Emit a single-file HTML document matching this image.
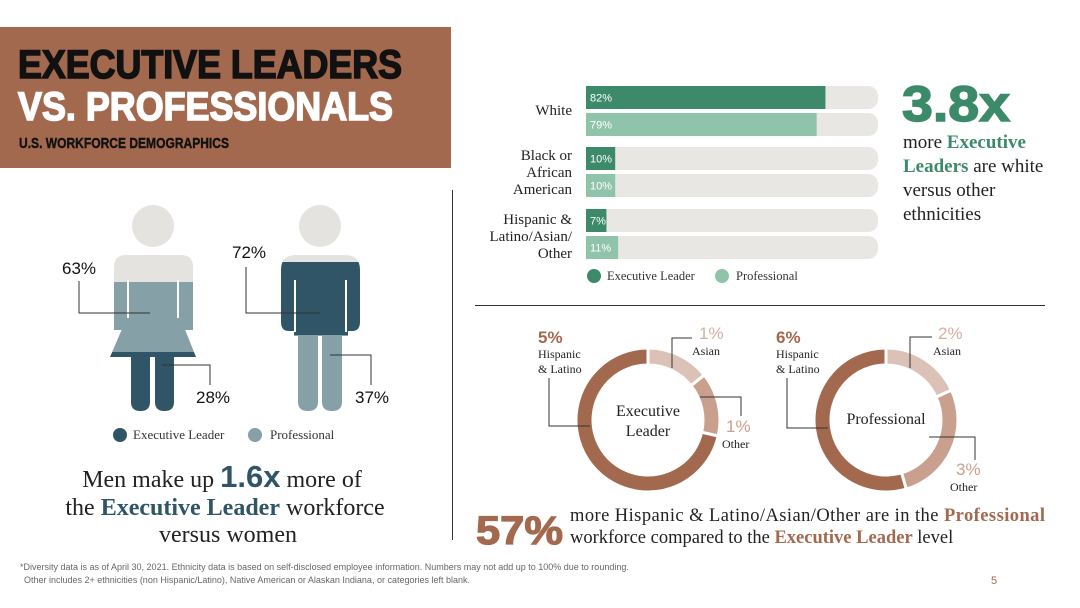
<!DOCTYPE html>
<html><head><meta charset="utf-8"><style>
body{margin:0;background:#fff}
svg{display:block;font-family:"Liberation Serif",serif}
.sans{font-family:"Liberation Sans",sans-serif}
</style></head><body>
<svg width="1080" height="608" viewBox="0 0 1080 608">
<defs>
<clipPath id="wclip"><path d="M114,330 V267 Q114,255 126,255 H181 Q193,255 193,267 V330 Z M125,322 H182 L196,357 H110 Z M131,352 H150 V402 Q150,411 140.5,411 Q131,411 131,402 Z M155,352 H174 V402 Q174,411 164.5,411 Q155,411 155,402 Z"/></clipPath>
<clipPath id="mclip"><path d="M281,322 V270 Q281,255 296,255 H345 Q360,255 360,270 V322 Q360,331 352,331 L348,331 V336 H294 V331 L289,331 Q281,331 281,322 Z M298,330 H318 V402 Q318,411 308,411 Q298,411 298,402 Z M322,330 H342 V402 Q342,411 332,411 Q322,411 322,402 Z"/></clipPath>
</defs>

<rect x="0" y="27" width="451" height="141" fill="#a3694f"/>
<text class="sans" x="18" y="78" font-size="40" font-weight="900" fill="#111" stroke="#111" stroke-width="1.6" textLength="384" lengthAdjust="spacingAndGlyphs">EXECUTIVE LEADERS</text>
<text class="sans" x="18" y="120" font-size="40" font-weight="900" fill="#fff" stroke="#fff" stroke-width="1.6" textLength="375" lengthAdjust="spacingAndGlyphs">VS. PROFESSIONALS</text>
<text class="sans" x="19" y="148" font-size="15" font-weight="700" fill="#111" stroke="#111" stroke-width="0.4" textLength="210" lengthAdjust="spacingAndGlyphs">U.S. WORKFORCE DEMOGRAPHICS</text>

<line x1="452.5" y1="190" x2="452.5" y2="540" stroke="#333" stroke-width="1"/>
<line x1="475" y1="305.5" x2="1045" y2="305.5" stroke="#333" stroke-width="1"/>

<g>
<circle cx="153" cy="226" r="21" fill="#e5e3df"/>
<g clip-path="url(#wclip)">
<rect x="100" y="250" width="110" height="32" fill="#e5e3df"/>
<rect x="100" y="282" width="110" height="70" fill="#86a0a8"/>
<rect x="100" y="352" width="110" height="70" fill="#2f5566"/>
</g>
<line x1="128" y1="280" x2="128" y2="318" stroke="#fff" stroke-width="2"/>
<line x1="178" y1="280" x2="178" y2="318" stroke="#fff" stroke-width="2"/>
</g>
<g>
<circle cx="320" cy="226" r="21" fill="#e5e3df"/>
<g clip-path="url(#mclip)">
<rect x="270" y="250" width="100" height="12" fill="#e5e3df"/>
<rect x="270" y="262" width="100" height="73" fill="#2f5566"/>
<rect x="270" y="335" width="100" height="80" fill="#86a0a8"/>
</g>
<line x1="295" y1="280" x2="295" y2="332" stroke="#fff" stroke-width="2"/>
<line x1="346" y1="280" x2="346" y2="332" stroke="#fff" stroke-width="2"/>
</g>
<g stroke="#333" stroke-width="1" fill="none">
<polyline points="79,281 79,313 150,313"/>
<polyline points="162,365 210,365 210,385"/>
<polyline points="246,267 246,313 320,313"/>
<polyline points="330,355 371,355 371,385"/>
</g>
<g class="sans" font-size="17" fill="#111">
<text x="62" y="274">63%</text>
<text x="196" y="403">28%</text>
<text x="232" y="258">72%</text>
<text x="355" y="403">37%</text>
</g>
<g font-size="13" fill="#333">
<circle cx="120" cy="435" r="7" fill="#2f5566"/><text x="133" y="439">Executive Leader</text>
<circle cx="255" cy="435" r="7" fill="#86a0a8"/><text x="270" y="439">Professional</text>
</g>
<g font-size="24" fill="#222" text-anchor="middle">
<text x="222" y="487">Men make up <tspan class="sans" font-weight="900" font-size="31" fill="#2f5566">1.6x</tspan> more of</text>
<text x="225" y="515">the <tspan font-weight="700" fill="#2f5566">Executive Leader</tspan> workforce</text>
<text x="228" y="542">versus women</text>
</g>

<g id="bars"></g>
<g font-size="15" fill="#222" text-anchor="end">
<text x="572" y="115">White</text>
<text x="572" y="160">Black or</text><text x="572" y="177">African</text><text x="572" y="194">American</text>
<text x="572" y="224">Hispanic &amp;</text><text x="572" y="241">Latino/Asian/</text><text x="572" y="258">Other</text>
</g>
<g font-size="12.5" fill="#333">
<circle cx="594" cy="276" r="7" fill="#3d8a6a"/><text x="607" y="280">Executive Leader</text>
<circle cx="722" cy="276" r="7" fill="#8fc4aa"/><text x="736" y="280">Professional</text>
</g>
<text class="sans" x="902" y="121" font-size="50" font-weight="900" fill="#3d8a6a" stroke="#3d8a6a" stroke-width="1.5" textLength="108" lengthAdjust="spacingAndGlyphs">3.8x</text>
<g font-size="19" fill="#222">
<text x="903" y="148">more <tspan font-weight="700" fill="#3d8a6a">Executive</tspan></text>
<text x="903" y="172"><tspan font-weight="700" fill="#3d8a6a">Leaders</tspan> are white</text>
<text x="903" y="196">versus other</text>
<text x="903" y="220">ethnicities</text>
</g>

<g id="donuts"></g>
<g stroke="#333" stroke-width="1" fill="none">
<polyline points="549,378 549,426 590,426"/>
<polyline points="692,338 672,338 672,368"/>
<polyline points="700,397 741,397 741,416"/>
<polyline points="787,378 787,428 828,428"/>
<polyline points="932,337 910,337 910,368"/>
<polyline points="929,437 975,437 975,460"/>
</g>
<g font-size="12" fill="#222">
<text class="sans" x="538" y="343" font-size="17" font-weight="700" fill="#a3694f">5%</text>
<text x="538" y="358">Hispanic</text><text x="538" y="373">&amp; Latino</text>
<text class="sans" x="699" y="339" font-size="17" fill="#d4b0a0">1%</text>
<text x="692" y="355">Asian</text>
<text class="sans" x="726" y="432" font-size="17" fill="#c9a08d">1%</text>
<text x="722" y="448">Other</text>
<text x="648" y="416" font-size="16" text-anchor="middle">Executive</text>
<text x="648" y="436" font-size="16" text-anchor="middle">Leader</text>
<text class="sans" x="776" y="343" font-size="17" font-weight="700" fill="#a3694f">6%</text>
<text x="776" y="358">Hispanic</text><text x="776" y="373">&amp; Latino</text>
<text class="sans" x="938" y="339" font-size="17" fill="#d4b0a0">2%</text>
<text x="933" y="355">Asian</text>
<text class="sans" x="956" y="475" font-size="17" fill="#c9a08d">3%</text>
<text x="950" y="491">Other</text>
<text x="886" y="424" font-size="16" text-anchor="middle">Professional</text>
</g>
<text class="sans" x="476" y="544" font-size="40" font-weight="900" fill="#a3694f" stroke="#a3694f" stroke-width="1.2" textLength="87" lengthAdjust="spacingAndGlyphs">57%</text>
<g font-size="18.5" fill="#222">
<text x="570" y="521" textLength="475" lengthAdjust="spacing">more Hispanic &amp; Latino/Asian/Other are in the <tspan font-weight="700" fill="#a3694f">Professional</tspan></text>
<text x="570" y="543">workforce compared to the <tspan font-weight="700" fill="#a3694f">Executive Leader</tspan> level</text>
</g>

<g class="sans" font-size="9" fill="#666">
<text x="20" y="570">*Diversity data is as of April 30, 2021. Ethnicity data is based on self-disclosed employee information. Numbers may not add up to 100% due to rounding.</text>
<text x="24" y="583">Other includes 2+ ethnicities (non Hispanic/Latino), Native American or Alaskan Indiana, or categories left blank.</text>
</g>
<text class="sans" x="991" y="584" font-size="11" fill="#a3694f">5</text>

<script>
const categories = ["White","Black or African American","Hispanic & Latino/Asian/Other"];
const execValues = [82,10,7];
const profValues = [79,10,11];
const donutSegments = ["Hispanic & Latino","Asian","Other"];
const execDonut = [5,1,1];
const profDonut = [6,2,3];
const donutColors = ["#a3694f","#dcc2b6","#c9a08d"];
const NS="http://www.w3.org/2000/svg";
const x0=586, x1=878, bh=23;
const xScale=v=>(x1-x0)*v/100;
const catY=i=>[86,147,209][i];
const bars=document.getElementById('bars');
function mk(tag,attrs,parent){const e=document.createElementNS(NS,tag);for(const k in attrs)e.setAttribute(k,attrs[k]);parent.appendChild(e);return e;}
categories.forEach((c,i)=>{
  [[execValues,"#3d8a6a",0,"exec"],[profValues,"#8fc4aa",27,"prof"]].forEach(([vals,col,off,nm])=>{
    const y=catY(i)+off;
    const track=mk('rect',{x:x0,y:y,width:x1-x0,height:bh,rx:10,fill:"#e8e7e4"},bars);
    
    
    const w=xScale(vals[i]);
    const b=mk('rect',{x:x0,y:y,width:w,height:bh,fill:col},bars);
    
    
    const t=mk('text',{x:x0+4,y:y+15.5,'font-size':11,fill:'#fff','class':'sans'},bars);
    t.textContent=vals[i]+'%';
    
    
  });
});
const donuts=document.getElementById('donuts');
const drawOrder=[1,2,0];
function donut(vals,cx,cy,nm){
  const R=72,r=55,tot=vals.reduce((a,b)=>a+b,0);
  let a=0;
  drawOrder.forEach(i=>{
    const v=vals[i];
    const a0=a, a1=a+v/tot*2*Math.PI; a=a1;
    const p=(rad,ang)=>[cx+rad*Math.sin(ang),cy-rad*Math.cos(ang)];
    const lg=(a1-a0)>Math.PI?1:0;
    const [ax,ay]=p(R,a0),[bx,by]=p(R,a1),[cx2,cy2]=p(r,a1),[dx,dy]=p(r,a0);
    const path=mk('path',{d:`M${ax},${ay} A${R},${R} 0 ${lg} 1 ${bx},${by} L${cx2},${cy2} A${r},${r} 0 ${lg} 0 ${dx},${dy} Z`,fill:donutColors[i],stroke:'#fff','stroke-width':3},donuts);
    
    
  });
}
donut(execDonut,648,420,'exec-donut');
donut(profDonut,886,420,'prof-donut');
</script>
</svg>
</body></html>
